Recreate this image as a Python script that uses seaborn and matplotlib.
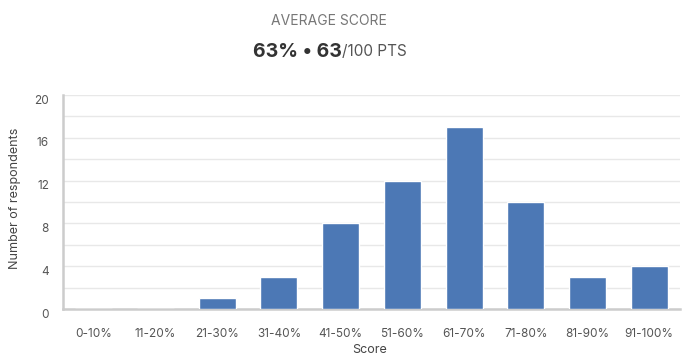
"""Score distribution bar chart with average score header"""

import pandas as pd
import matplotlib
matplotlib.use('Agg')
import matplotlib.pyplot as plt
import matplotlib.transforms as mtransforms
import seaborn as sns

# Data
score_bins = ['0-10%', '11-20%', '21-30%', '31-40%', '41-50%',
              '51-60%', '61-70%', '71-80%', '81-90%', '91-100%']
respondents = [0, 0, 1, 3, 8, 12, 17, 10, 3, 4]
y_ticks = [0, 4, 8, 12, 16, 20]

df = pd.DataFrame({'score': score_bins, 'count': respondents})

sns.set_theme(style='white')
plt.rcParams['font.family'] = ['Inter', 'DejaVu Sans']

fig = plt.figure(figsize=(6.95, 3.57), dpi=100)
ax = fig.add_axes([63 / 695, 1 - 309 / 357, 617 / 695, 214 / 357])

sns.barplot(data=df, x='score', y='count', color='#4c78b5',
            width=0.6, saturation=1, ax=ax, zorder=3)

ax.set_xlim(-0.5, len(score_bins) - 0.5)
ax.set_ylim(0, 20)
ax.set_yticks(y_ticks)
ax.set_yticks(range(0, 21, 2), minor=True)
ax.grid(axis='y', which='both', color='#e8e8e8', linewidth=1, zorder=0)
ax.tick_params(axis='y', which='both', length=0, pad=10, labelsize=8.5,
               labelcolor='#555555')
ax.tick_params(axis='x', length=0, pad=14, labelsize=8.5,
               labelcolor='#555555')

# y tick labels sit slightly below their gridlines in the reference
offset = mtransforms.ScaledTranslation(0, -4 / 100, fig.dpi_scale_trans)
for lbl in ax.get_yticklabels():
    lbl.set_transform(lbl.get_transform() + offset)

for side in ['top', 'right']:
    ax.spines[side].set_visible(False)
for side in ['left', 'bottom']:
    ax.spines[side].set_color('#cccccc')
    ax.spines[side].set_linewidth(1.8)

ax.set_xlabel('')
ax.set_ylabel('')
fig.text(370 / 695, 1 - 350 / 357, 'Score', ha='center', va='center',
         fontsize=9, color='#444444')
fig.text(15 / 695, 1 - 198 / 357, 'Number of respondents', ha='center',
         va='center', rotation=90, fontsize=9, color='#444444')

# Header
fig.text(329 / 695, 1 - 21 / 357, 'AVERAGE SCORE', ha='center', va='center',
         fontsize=10, color='#777777')
fig.text(342 / 695, 1 - 52 / 357, '63% \u2022 63', ha='right', va='center',
         fontsize=14, fontweight='bold', color='#333333')
fig.text(342 / 695, 1 - 52 / 357, '/100 PTS', ha='left', va='center',
         fontsize=11, color='#555555')

plt.savefig('out.png', dpi=100)
plt.close()
